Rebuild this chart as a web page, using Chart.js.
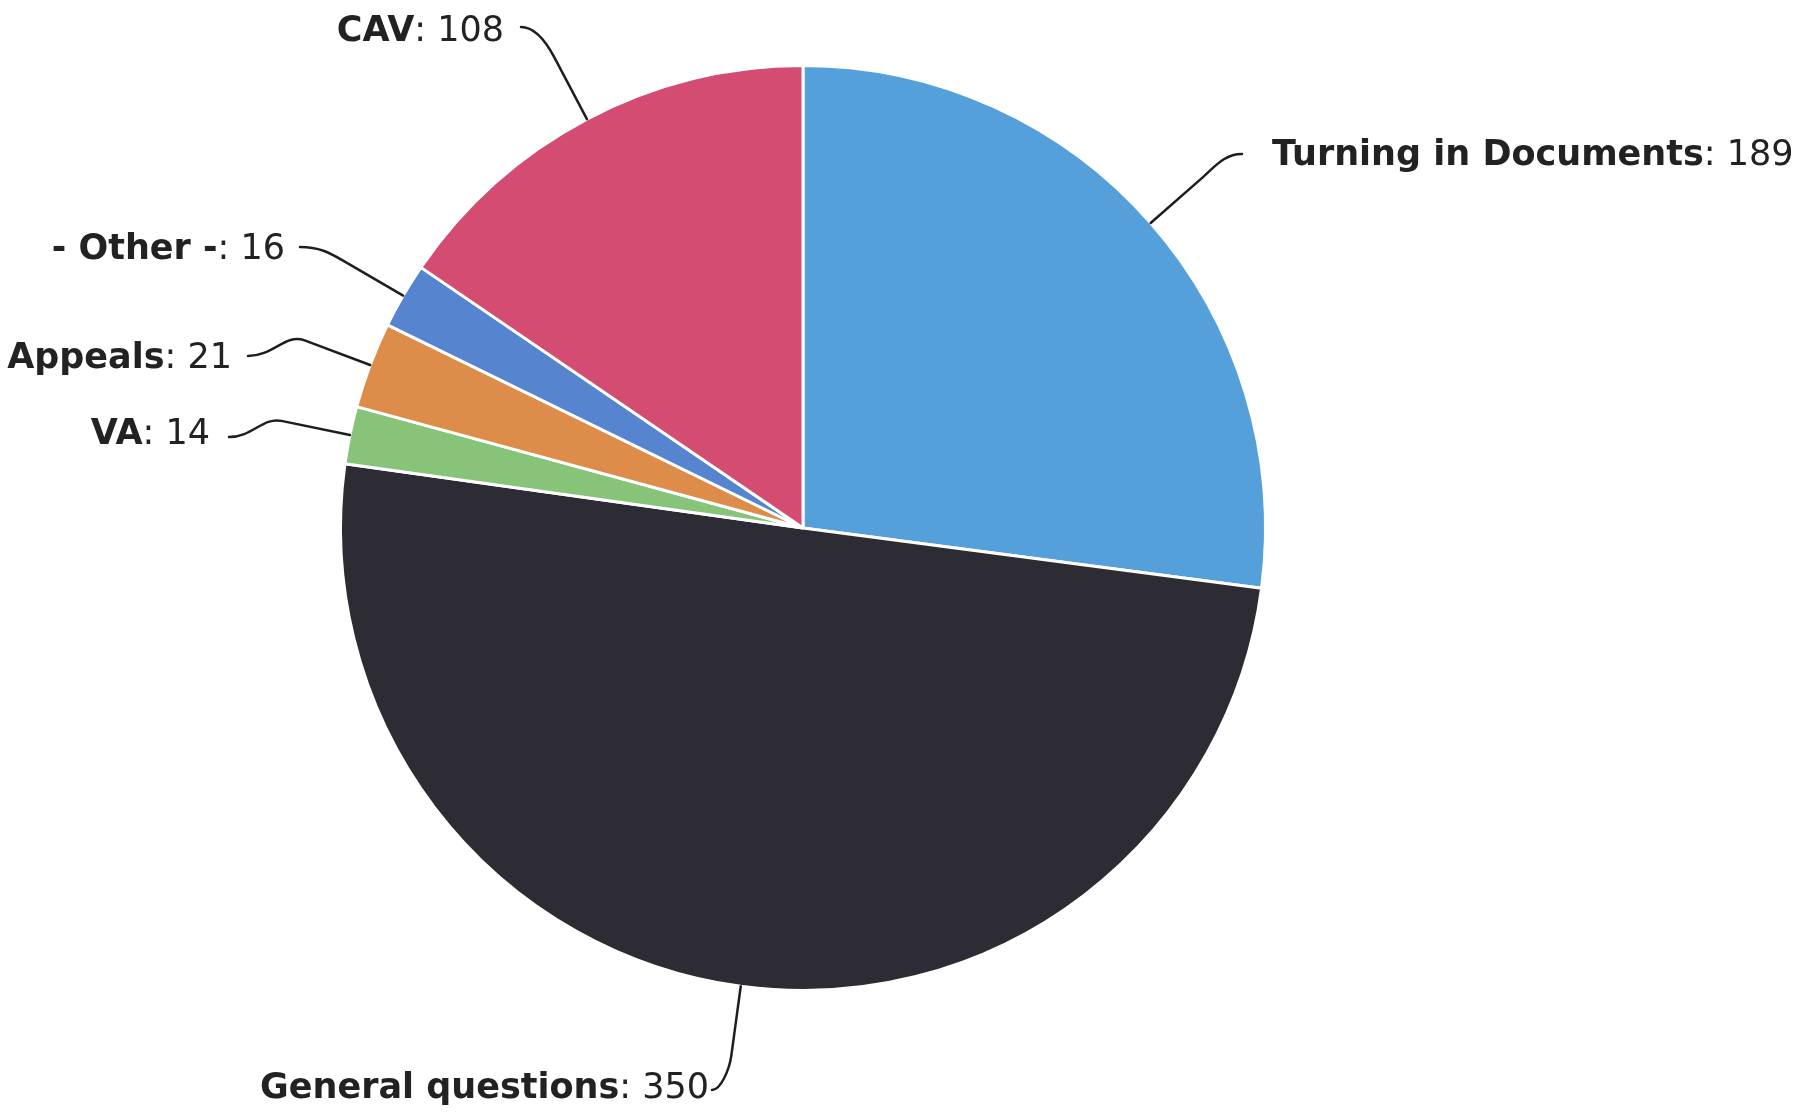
<!DOCTYPE html>
<html>
<head>
<meta charset="utf-8">
<title>Contacts by topic</title>
<script src="https://cdn.jsdelivr.net/npm/chart.js@4/dist/chart.umd.min.js"></script>
<style>
  html, body { margin: 0; padding: 0; background: #fff; }
  #wrap { width: 1817px; height: 1112px; position: relative; }
</style>
</head>
<body>
<div id="wrap"><canvas id="pie"></canvas></div>
<script>
// ---- data ----
const topics = ['Turning in Documents', 'General questions', 'VA', 'Appeals', '- Other -', 'CAV'];
const counts = [189, 350, 14, 21, 16, 108];
const sliceColors = ['#55a0da', '#2d2b33', '#87c47a', '#dd8c49', '#5684cf', '#d44c71'];

// label text anchor (x, y centre) and where the connector leaves the label
// side: 1 = text to the right of its anchor, -1 = text ends at its anchor
const labelLayout = [
  { tx: 1272, ty: 156, lx: 1242, ly: 154, side: 1 },
  { tx: 709, ty: 1089, lx: 712, ly: 1090, side: -1 },
  { tx: 210, ty: 435, lx: 229, ly: 437, side: -1 },
  { tx: 232, ty: 359, lx: 248, ly: 356, side: -1 },
  { tx: 285, ty: 250, lx: 300, ly: 247, side: -1 },
  { tx: 504, ty: 32, lx: 521, ly: 27, side: -1 }
];
const kneeDist = 70;
const FONT = '"DejaVu Sans", sans-serif';

// ---- data labels with curved connectors ----
const pieLabels = {
  id: 'pieLabels',
  afterDatasetsDraw(chart) {
    const ctx = chart.ctx;
    const arcs = chart.getDatasetMeta(0).data;
    ctx.save();
    arcs.forEach((arc, i) => {
      const p = labelLayout[i];
      const mid = (arc.startAngle + arc.endAngle) / 2;
      const dx = Math.cos(mid), dy = Math.sin(mid);
      const r = arc.outerRadius;
      const ex = arc.x + dx * r, ey = arc.y + dy * r;
      const kx = arc.x + dx * (r + kneeDist), ky = arc.y + dy * (r + kneeDist);
      const span = Math.hypot(kx - p.lx, ky - p.ly);

      // connector: label -> knee (smooth curve) -> slice edge (straight)
      ctx.beginPath();
      ctx.moveTo(p.lx, p.ly);
      ctx.bezierCurveTo(
        p.lx - p.side * Math.abs(kx - p.lx) * 0.45, p.ly,
        kx + dx * span * 0.35, ky + dy * span * 0.35,
        kx, ky);
      ctx.lineTo(ex, ey);
      ctx.strokeStyle = '#1e1e1e';
      ctx.lineWidth = 2.5;
      ctx.lineCap = 'round';
      ctx.lineJoin = 'round';
      ctx.stroke();

      // text: bold name, normal value
      const name = topics[i];
      const val = ': ' + counts[i];
      ctx.textBaseline = 'middle';
      ctx.fillStyle = '#222';
      ctx.font = 'bold 35px ' + FONT;
      const wName = ctx.measureText(name).width;
      ctx.font = '35px ' + FONT;
      const wVal = ctx.measureText(val).width;
      const x0 = p.side === 1 ? p.tx : p.tx - wName - wVal;
      ctx.textAlign = 'left';
      ctx.font = 'bold 35px ' + FONT;
      ctx.fillText(name, x0, p.ty);
      ctx.font = '35px ' + FONT;
      ctx.fillText(val, x0 + wName, p.ty);
    });
    ctx.restore();
  }
};

new Chart(document.getElementById('pie'), {
  type: 'pie',
  data: {
    labels: topics,
    datasets: [{
      data: counts,
      backgroundColor: sliceColors,
      borderColor: '#ffffff',
      borderWidth: 3,
      hoverOffset: 0
    }]
  },
  options: {
    responsive: true,
    maintainAspectRatio: false,
    animation: false,
    layout: { padding: { left: 339, top: 64, right: 550, bottom: 120 } },
    plugins: {
      legend: { display: false },
      tooltip: { enabled: false }
    }
  },
  plugins: [pieLabels]
});
</script>
</body>
</html>
